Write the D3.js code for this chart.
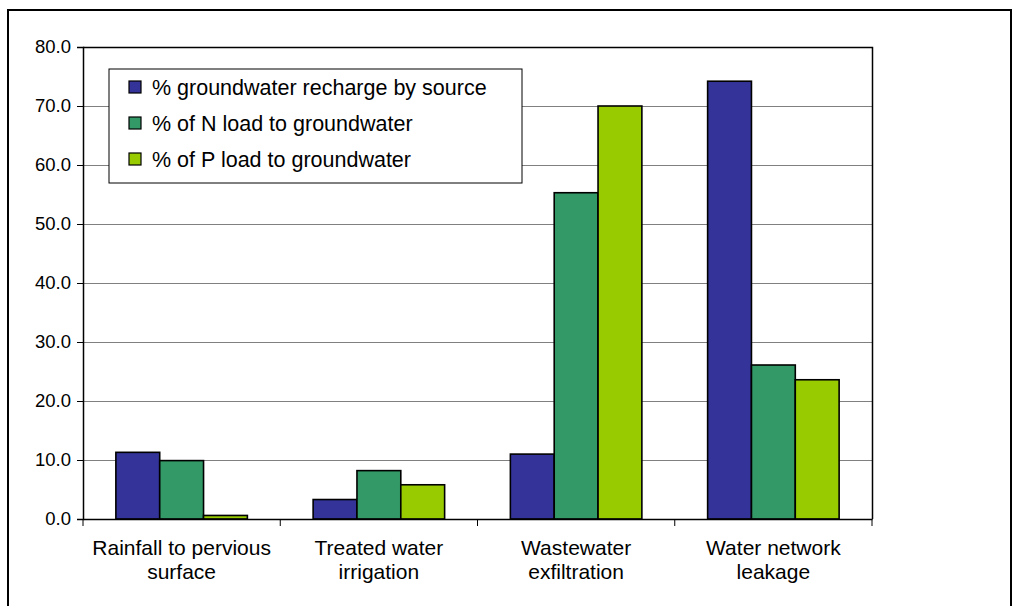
<!DOCTYPE html>
<html>
<head>
<meta charset="utf-8">
<script src="https://cdn.jsdelivr.net/npm/d3@7"></script>
<style>
  html, body { margin: 0; padding: 0; background: #fff; }
  svg { display: block; }
  text { font-family: "Liberation Sans", Arial, sans-serif; fill: #000; }
</style>
</head>
<body>
<svg id="chart" width="1013" height="606"></svg>
<script>
// Source categories (two-line labels)
const categories = [
  ["Rainfall to pervious", "surface"],
  ["Treated water", "irrigation"],
  ["Wastewater", "exfiltration"],
  ["Water network", "leakage"]
];
const seriesNames = [
  "% groundwater recharge by source",
  "% of N load to groundwater",
  "% of P load to groundwater"
];
const rechargePct = [11.3, 3.3, 11.0, 74.2];
const nLoadPct    = [9.9, 8.2, 55.3, 26.1];
const pLoadPct    = [0.6, 5.8, 70.0, 23.6];
const yTicks = [0, 10, 20, 30, 40, 50, 60, 70, 80];
const colors = ["#333399", "#339966", "#99cc00"];

const seriesValues = [rechargePct, nLoadPct, pLoadPct];
const rows = categories.map((c, i) => ({
  key: c.join(" "),
  label: c,
  values: seriesValues.map((s, j) => ({ series: j, value: s[i] }))
}));

const svg = d3.select("#chart");
const plot = { left: 83, right: 872, top: 47, bottom: 519 };

// Outer chart frame (bottom runs past the canvas)
svg.append("rect")
  .attr("x", 8).attr("y", 10)
  .attr("width", 1003).attr("height", 700)
  .attr("fill", "#fff").attr("stroke", "#000").attr("stroke-width", 2);

const x = d3.scaleBand()
  .domain(rows.map(r => r.key))
  .range([plot.left, plot.right])
  .paddingInner(0).paddingOuter(0);

const xInner = d3.scaleBand()
  .domain([0, 1, 2])
  .range([0, x.bandwidth()])
  .paddingInner(0)
  .paddingOuter(0.75);

const y = d3.scaleLinear().domain([0, 80]).range([plot.bottom, plot.top]);

// Horizontal gridlines
svg.append("g")
  .selectAll("line")
  .data(yTicks.filter(t => t > 0 && t < 80))
  .join("line")
  .attr("x1", plot.left).attr("x2", plot.right)
  .attr("y1", d => Math.round(y(d)) + 0.5)
  .attr("y2", d => Math.round(y(d)) + 0.5)
  .attr("stroke", "#808080").attr("stroke-width", 1);

// Plot area frame (top and right)
svg.append("path")
  .attr("d", `M${plot.left},${plot.top + 0.5}H${plot.right + 0.5}V${plot.bottom}`)
  .attr("fill", "none").attr("stroke", "#000").attr("stroke-width", 1.5);

// Bars
svg.append("g")
  .selectAll("g")
  .data(rows)
  .join("g")
  .attr("transform", d => `translate(${x(d.key)},0)`)
  .selectAll("rect")
  .data(d => d.values)
  .join("rect")
  .attr("x", d => xInner(d.series))
  .attr("width", xInner.bandwidth())
  .attr("y", d => y(d.value))
  .attr("height", d => y(0) - y(d.value))
  .attr("fill", d => colors[d.series])
  .attr("stroke", "#000")
  .attr("stroke-width", 1.6);

// Y axis
const yAxis = svg.append("g")
  .attr("transform", `translate(${plot.left},0)`)
  .call(d3.axisLeft(y).tickValues(yTicks).tickFormat(d3.format(".1f")).tickSize(6).tickPadding(6));
yAxis.select(".domain").attr("stroke", "#000").attr("stroke-width", 1.5);
yAxis.selectAll(".tick line").attr("stroke", "#000");
yAxis.selectAll(".tick text")
  .style("font-size", "18.5px")
  .attr("fill", "#000");

// X axis with ticks at category boundaries
const xAxis = svg.append("g")
  .attr("transform", `translate(0,${plot.bottom})`)
  .call(d3.axisBottom(x).tickSize(0).tickFormat(""));
xAxis.select(".domain").attr("stroke", "#000").attr("stroke-width", 1.5);
const boundaries = rows.map(r => x(r.key)).concat([plot.right]);
xAxis.append("g")
  .selectAll("line")
  .data(boundaries)
  .join("line")
  .attr("x1", d => d).attr("x2", d => d)
  .attr("y1", 0).attr("y2", 7)
  .attr("stroke", "#000").attr("stroke-width", 1);

// Category labels
svg.append("g")
  .selectAll("text")
  .data(rows)
  .join("text")
  .attr("x", d => x(d.key) + x.bandwidth() / 2)
  .attr("y", 555)
  .attr("text-anchor", "middle")
  .style("font-size", "21px")
  .selectAll("tspan")
  .data(d => d.label)
  .join("tspan")
  .attr("x", function() { return d3.select(this.parentNode).attr("x"); })
  .attr("dy", (d, i) => i === 0 ? 0 : 23.5)
  .text(d => d);

// Legend
const legend = svg.append("g").attr("transform", "translate(109,69)");
legend.append("rect")
  .attr("width", 413).attr("height", 114)
  .attr("fill", "#fff").attr("stroke", "#000").attr("stroke-width", 1);
const item = legend.selectAll("g.item")
  .data(seriesNames)
  .join("g")
  .attr("class", "item")
  .attr("transform", (d, i) => `translate(20,${18 + i * 36})`);
item.append("rect")
  .attr("x", 0).attr("y", -6)
  .attr("width", 12).attr("height", 12)
  .attr("fill", (d, i) => colors[i])
  .attr("stroke", "#000").attr("stroke-width", 1.2);
item.append("text")
  .attr("x", 23).attr("y", 7.5)
  .style("font-size", "21.5px")
  .text(d => d);
</script>
</body>
</html>
